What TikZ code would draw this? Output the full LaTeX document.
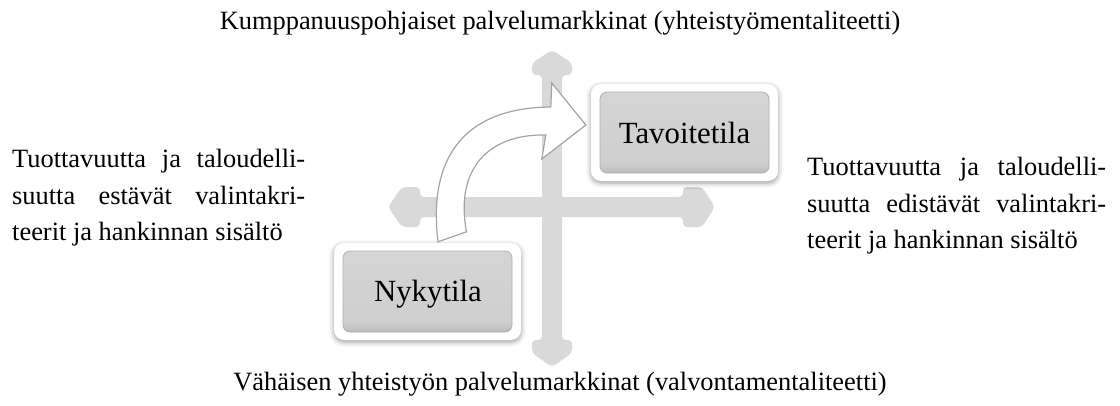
\documentclass[tikz,border=0pt]{standalone}
\usepackage{fontspec}
\setmainfont{Liberation Serif}
\usetikzlibrary{calc,shadows.blur}

% palette
\definecolor{crossgray}{HTML}{D9D9D9}
\definecolor{arrowline}{HTML}{A3A3A3}
\definecolor{bevdark}{HTML}{8E8E8E}
\definecolor{bevmidA}{HTML}{A9A9A9}
\definecolor{bevmidB}{HTML}{C3C3C3}
\definecolor{bevface}{HTML}{CFCFCF}
\definecolor{bevfaceB}{HTML}{D4D4D4}
\definecolor{bevlight}{HTML}{DDDDDD}
\definecolor{bevtop}{HTML}{E6E6E6}
\definecolor{bevedge}{HTML}{B0B0B0}

% bevelled face of the state boxes (vertical, bottom to top)
\pgfdeclareverticalshading{bevelgray}{100bp}{%
  color(0bp)=(bevdark); color(25bp)=(bevdark); color(27bp)=(bevmidA);
  color(31bp)=(bevmidB); color(35bp)=(bevface); color(69bp)=(bevfaceB);
  color(73bp)=(bevlight); color(75bp)=(bevtop); color(100bp)=(bevtop)}

\tikzset{
  sidetext/.style={anchor=north west, inner sep=0pt, align=left,
    font=\fontsize{26.4}{36.5}\selectfont},
  axistext/.style={anchor=base, inner sep=0pt,
    font=\fontsize{26.4}{36.5}\selectfont},
  statebox/.style={rectangle, rounded corners=10pt,
    minimum width=187pt, minimum height=97pt, inner sep=0pt,
    fill=white,
    blur shadow={shadow xshift=0pt, shadow yshift=-2pt,
      shadow blur radius=5pt, shadow opacity=40},
    font=\fontsize{30.8}{36}\selectfont,
    path picture={
      \shade[shading=bevelgray, draw=bevedge, line width=0.8pt,
        rounded corners=7pt]
        ([shift={(9pt,8pt)}]path picture bounding box.south west)
        rectangle
        ([shift={(-9pt,-8pt)}]path picture bounding box.north east);
    }},
  crossarm/.style={fill=crossgray, rounded corners=4pt},
  bentarrow/.style={fill=white, draw=arrowline, line width=1.2pt,
    line join=miter}
}

\begin{document}
\begin{tikzpicture}[x=1pt, y=-1pt]
  \useasboundingbox (0,0) rectangle (1120,405);

  % the two axes with double heads
  \fill[crossarm] (552,50) -- (572,63) -- (572,75) -- (562,75)
    -- (562,340) -- (572,340) -- (572,353) -- (552,367)
    -- (532,353) -- (532,340) -- (542,340) -- (542,75)
    -- (532,75) -- (532,63) -- cycle;
  \fill[crossarm] (388,207) -- (402,187) -- (420,187) -- (420,197)
    -- (683,197) -- (683,187) -- (702,187) -- (715,207)
    -- (702,227) -- (683,227) -- (683,217) -- (420,217)
    -- (420,227) -- (402,227) -- cycle;

  % axis labels
  \node[axistext] (top) at (560,29)
    {Kumppanuuspohjaiset palvelumarkkinat (yhteistyömentaliteetti)};
  \node[axistext] (bottom) at (560,390)
    {Vähäisen yhteistyön palvelumarkkinat (valvontamentaliteetti)};
  \node[sidetext] (left) at (12,149)
    {\makebox[293pt][s]{Tuottavuutta ja taloudelli-}\\
     \makebox[293pt][s]{suutta estävät valintakri-}\\
     teerit ja hankinnan sisältö};
  \node[sidetext] (right) at (807,157)
    {\makebox[299pt][s]{Tuottavuutta ja taloudelli-}\\
     \makebox[299pt][s]{suutta edistävät valintakri-}\\
     teerit ja hankinnan sisältö};

  % states
  \node[statebox] (nyky) at (427.5,291.5) {};
  \node[statebox] (tav) at (684.5,132.5) {};
  \node[anchor=base, inner sep=0pt, font=\fontsize{30.8}{36}\selectfont]
    (nykytxt) at (428,301.7) {Nykytila};
  \node[anchor=base, inner sep=0pt, font=\fontsize{30.8}{36}\selectfont]
    (tavtxt) at (684.5,143.5) {Tavoitetila};

  % bent arrow from the current state to the target state
  \coordinate (arrBL) at ($(nyky.north)+(10.5,-1)$);
  \coordinate (arrBR) at ($(nyky.north)+(39,-11)$);
  \coordinate (arrTip) at ($(tav.west)+(-5,-7.5)$);
  \draw[bentarrow] (arrBL)
    .. controls ($(arrBL)+(-10,-82)$) and ($(arrBL)+(24,-134)$)
    .. ($(arrTip)+(-35,-18)$)
    -- ($(arrTip)+(-34,-42)$) -- (arrTip) -- ($(arrTip)+(-44,34)$)
    -- ($(arrTip)+(-40,10)$)
    .. controls ($(arrBR)+(23,-98)$) and ($(arrBR)+(-12,-64)$)
    .. (arrBR) -- cycle;
\end{tikzpicture}
\end{document}
